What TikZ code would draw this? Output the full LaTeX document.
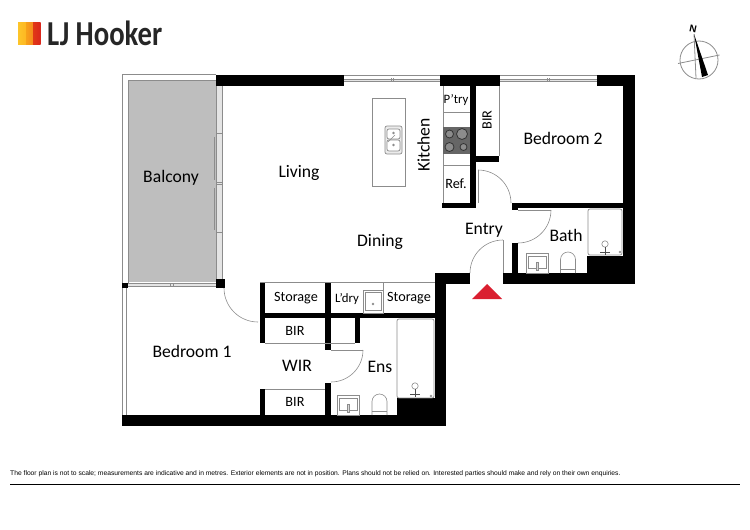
\documentclass[tikz,border=0pt]{standalone}
\usepackage{fontspec}
\setmainfont{Carlito}
\newfontfamily\footfont{Liberation Sans}
\newfontfamily\logofont{Carlito}
\usepackage{tikz}
\definecolor{balconygrey}{HTML}{BEBEBE}
\definecolor{linegrey}{HTML}{8C8C8C}
\definecolor{glassgrey}{HTML}{E4E4E4}
\definecolor{logoyellow}{HTML}{FDC52A}
\definecolor{logoorange}{HTML}{F58A1F}
\definecolor{logored}{HTML}{D9261C}
\definecolor{entryred}{HTML}{DA1F30}
\tikzset{
  wall/.style={fill=black},
  thin line/.style={draw=linegrey,line width=0.6pt},
  fitting/.style={draw=linegrey,line width=0.7pt,rounded corners=2pt},
  bigroom/.style={font=\fontsize{17.6}{18}\selectfont,inner sep=0pt},
  smallroom/.style={font=\fontsize{14.2}{15}\selectfont,inner sep=0pt},
  tinyroom/.style={font=\fontsize{12.8}{13}\selectfont,inner sep=0pt},
}
\begin{document}
\begin{tikzpicture}[x=1pt,y=-1pt]
\useasboundingbox (0,0) rectangle (750,530);

% logo
\shade[left color=logoyellow,right color=logoyellow!80!orange] (18,22) rectangle (26,44.5);
\shade[left color=logoorange!80!yellow,right color=logoorange] (26,22) rectangle (33,44.5);
\shade[left color=logored!80!orange,right color=logored] (33,22) rectangle (40.5,44.5);
\node[inner sep=0pt,anchor=base west,xscale=0.82,font=\logofont\bfseries\fontsize{35}{35}\selectfont,text=black!85] (logotext) at (47,45) {LJ Hooker};

% compass
\draw[linegrey,line width=0.8pt] (699,60) circle (19);
\draw[linegrey,line width=0.8pt] (678,63.5) -- (719.5,55);
\draw[linegrey,line width=0.8pt] (694,34) -- (696,78);
\fill[black] (694,34) -- (708,75) -- (702,77) -- cycle;
\node[inner sep=0pt,font=\footfont\bfseries\fontsize{10}{10}\selectfont,rotate=-12] (north) at (693,29) {N};

% balcony
\fill[balconygrey] (128,80) rectangle (216,282);
\fill[glassgrey] (216,86) rectangle (222,280);
\fill[glassgrey] (127,283.5) rectangle (216,286.5);
\draw[thin line] (216,74.5) -- (122,74.5) -- (122,283);
\draw[thin line] (128,283) -- (128,80) -- (216,80);
\draw[thin line] (127,286.5) -- (216,286.5);
\draw[thin line] (127,283.5) -- (216,283.5);
\draw[thin line] (222,86) -- (222,280);
\draw[thin line] (216.5,86) -- (216.5,280);
\draw[thin line,line width=1pt] (214.5,137) -- (214.5,180);
\draw[thin line,line width=1pt] (214.5,188) -- (214.5,230);
\foreach \ym in {133,182,184,232}{
  \draw[thin line] (217,\ym) -- (222,\ym);
}
\draw[thin line] (170,283.5) -- (170,286.5);
\draw[thin line] (173,283.5) -- (173,286.5);

% bedroom 1 window
\draw[thin line] (122,288) -- (122,415);
\draw[thin line] (126.5,288) -- (126.5,415);

% outer walls
\fill[wall] (216,75) rectangle (344,86);
\fill[wall] (440,75) rectangle (500,86);
\fill[wall] (597,75) rectangle (635,86);
\fill[wall] (623,75) rectangle (635,284);
\fill[wall] (503,273) rectangle (635,284);
\fill[wall] (587,256) rectangle (623,273);
\fill[wall] (435,273) rectangle (470,284);
\fill[wall] (435,273) rectangle (446,426);
\fill[wall] (122,415) rectangle (446,426);
\fill[wall] (397,398) rectangle (435,415);
\fill[wall] (216,279) rectangle (224.5,288);
\fill[wall] (122,282.5) rectangle (127.5,288);

% inner walls
\fill[wall] (470,86) rectangle (476,207);
\fill[wall] (442,203) rectangle (476,208);
\fill[wall] (476,156) rectangle (499,162);
\fill[wall] (512,203) rectangle (623,208);
\fill[wall] (512,203) rectangle (518,210);
\fill[wall] (512,243) rectangle (518,273);
\fill[wall] (260,282) rectangle (265,343);
\fill[wall] (260,313) rectangle (435,318);
\fill[wall] (325,282) rectangle (331,350);
\fill[wall] (355,318) rectangle (360,343);
\fill[wall] (325,383) rectangle (331,415);
\fill[wall] (260,389) rectangle (265,415);

% windows
\foreach \xa/\xb in {344/440,500/597}{
  \fill[glassgrey] (\xa,79) rectangle (\xb,81.5);
  \draw[thin line] (\xa,75) -- (\xb,75);
  \draw[thin line] (\xa,79) -- (\xb,79);
  \draw[thin line] (\xa,81.5) -- (\xb,81.5);
}
\draw[thin line] (391,78) -- (391,82);
\draw[thin line] (393,78) -- (393,82);
\draw[thin line] (547,78) -- (547,82);
\draw[thin line] (549,78) -- (549,82);

% kitchen
\draw[thin line] (443,86) -- (443,203);
\draw[thin line] (443,112) -- (470,112);
\draw[thin line] (443,165) -- (470,165);
\draw[thin line] (499,86) -- (499,156);
\draw[thin line] (372,98) rectangle (405,186);
\fill[black!60] (443,127) rectangle (470,153.5);
\foreach \xc/\yc/\rc in {449.5/134/4,462/134/5.5,449.5/147/4.5,463.5/147/3.5}{
  \draw[black!80,fill=black!45,line width=0.8pt] (\xc,\yc) circle (\rc);
}
% sink
\draw[fitting,fill=black!8] (385,126) rectangle (402,154);
\draw[fitting,fill=white] (387,129) rectangle (400,139);
\draw[fitting,fill=white] (387,140) rectangle (400,151);
\fill[linegrey] (393.5,133) circle (1.3);
\fill[linegrey] (393.5,145) circle (1.3);
\draw[thin line] (388,142) -- (395,135);

% doors
\draw[thin line] (478,170) -- (478,203);
\draw[thin line] (478,170) arc (-90:0:33);
\draw[thin line] (518,210) -- (551,210);
\draw[thin line] (551,210) arc (0:90:33);
\draw[thin line] (503,240) -- (503,273);
\draw[thin line] (503,240) arc (-90:-180:33);
\draw[thin line] (224,288) arc (180:90:34);
\draw[thin line] (331,350) -- (363,350);
\draw[thin line] (363,350) arc (0:90:32);

% thin partitions
\draw[thin line] (260,282) -- (435,282);
\draw[thin line] (383,282) -- (383,313);
\draw[thin line] (265,343) -- (355,343);
\draw[thin line] (265,389) -- (325,389);

% baths
\draw[fitting] (588,209) rectangle (622,255);
\draw[fitting] (397,319) rectangle (434,398);
\foreach \xb/\yb in {605/244,415/386}{
  \draw[linegrey,line width=0.6pt] (\xb,\yb) circle (3.2);
  \draw[black!70,line width=0.8pt] (\xb,\yb+3) -- (\xb,\yb+11);
  \draw[black!70,line width=0.8pt] (\xb-5,\yb+8.5) -- (\xb+5,\yb+8.5);
}
\draw[linegrey] (620,252) circle (1);
\draw[linegrey] (431,396) circle (1);

% basins
\foreach \xb/\yb in {526/253,337/395.5}{
  \draw[thin line] (\xb,\yb) rectangle (\xb+22,\yb+20);
  \draw[thin line] (\xb+2,\yb+3) rectangle (\xb+20,\yb+15);
  \draw[thin line,fill=black!15] (\xb+10.2,\yb+9) rectangle (\xb+11.8,\yb+17);
}
\draw[thin line] (363,290) rectangle (383,313);
\draw[thin line] (365,292) rectangle (381,310);
\fill[linegrey] (373,304) circle (1.3);

% toilets
\foreach \xt/\yt in {560.5/252,372/394}{
  \draw[thin line] (\xt,\yt+21) -- (\xt,\yt+7.5) arc (180:360:7.5) -- (\xt+15,\yt+21);
  \draw[thin line] (\xt,\yt+17) -- (\xt+15,\yt+17);
}

% entry marker
\fill[entryred] (472,299) -- (502,299) -- (487,284) -- cycle;

% labels
\node[bigroom] (balconylabel) at (171,178) {Balcony};
\node[bigroom] (livinglabel) at (299,173) {Living};
\node[bigroom] (dininglabel) at (380,242) {Dining};
\node[bigroom,rotate=90] (kitchenlabel) at (423.5,145) {Kitchen};
\node[bigroom] (bed1label) at (192,351) {Bedroom 1};
\node[bigroom] (bed2label) at (563,138.5) {Bedroom 2};
\node[bigroom] (entrylabel) at (484,230) {Entry};
\node[bigroom] (bathlabel) at (566,235) {Bath};
\node[bigroom] (wirlabel) at (297,366) {WIR};
\node[bigroom] (enslabel) at (380,367) {Ens};
\node[tinyroom] (ptrylabel) at (456,100) {P’try};
\node[smallroom,rotate=90] (birlabela) at (487,120) {BIR};
\node[smallroom] (reflabel) at (456,184) {Ref.};
\node[smallroom] (storelabela) at (296,298.5) {Storage};
\node[tinyroom] (ldrylabel) at (347,299) {L’dry};
\node[smallroom] (storelabelb) at (409,298.5) {Storage};
\node[smallroom] (birlabelb) at (295,331) {BIR};
\node[smallroom] (birlabelc) at (295,402) {BIR};

% footer
\node[inner sep=0pt,anchor=west,font=\footfont\fontsize{6.72}{7}\selectfont] (disclaimer) at (10,473.5) {The floor plan is not to scale; measurements are indicative and in metres. Exterior elements are not in position. Plans should not be relied on. Interested parties should make and rely on their own enquiries.};
\draw[black,line width=1.8pt] (10,484.5) -- (740,484.5);
\end{tikzpicture}
\end{document}
